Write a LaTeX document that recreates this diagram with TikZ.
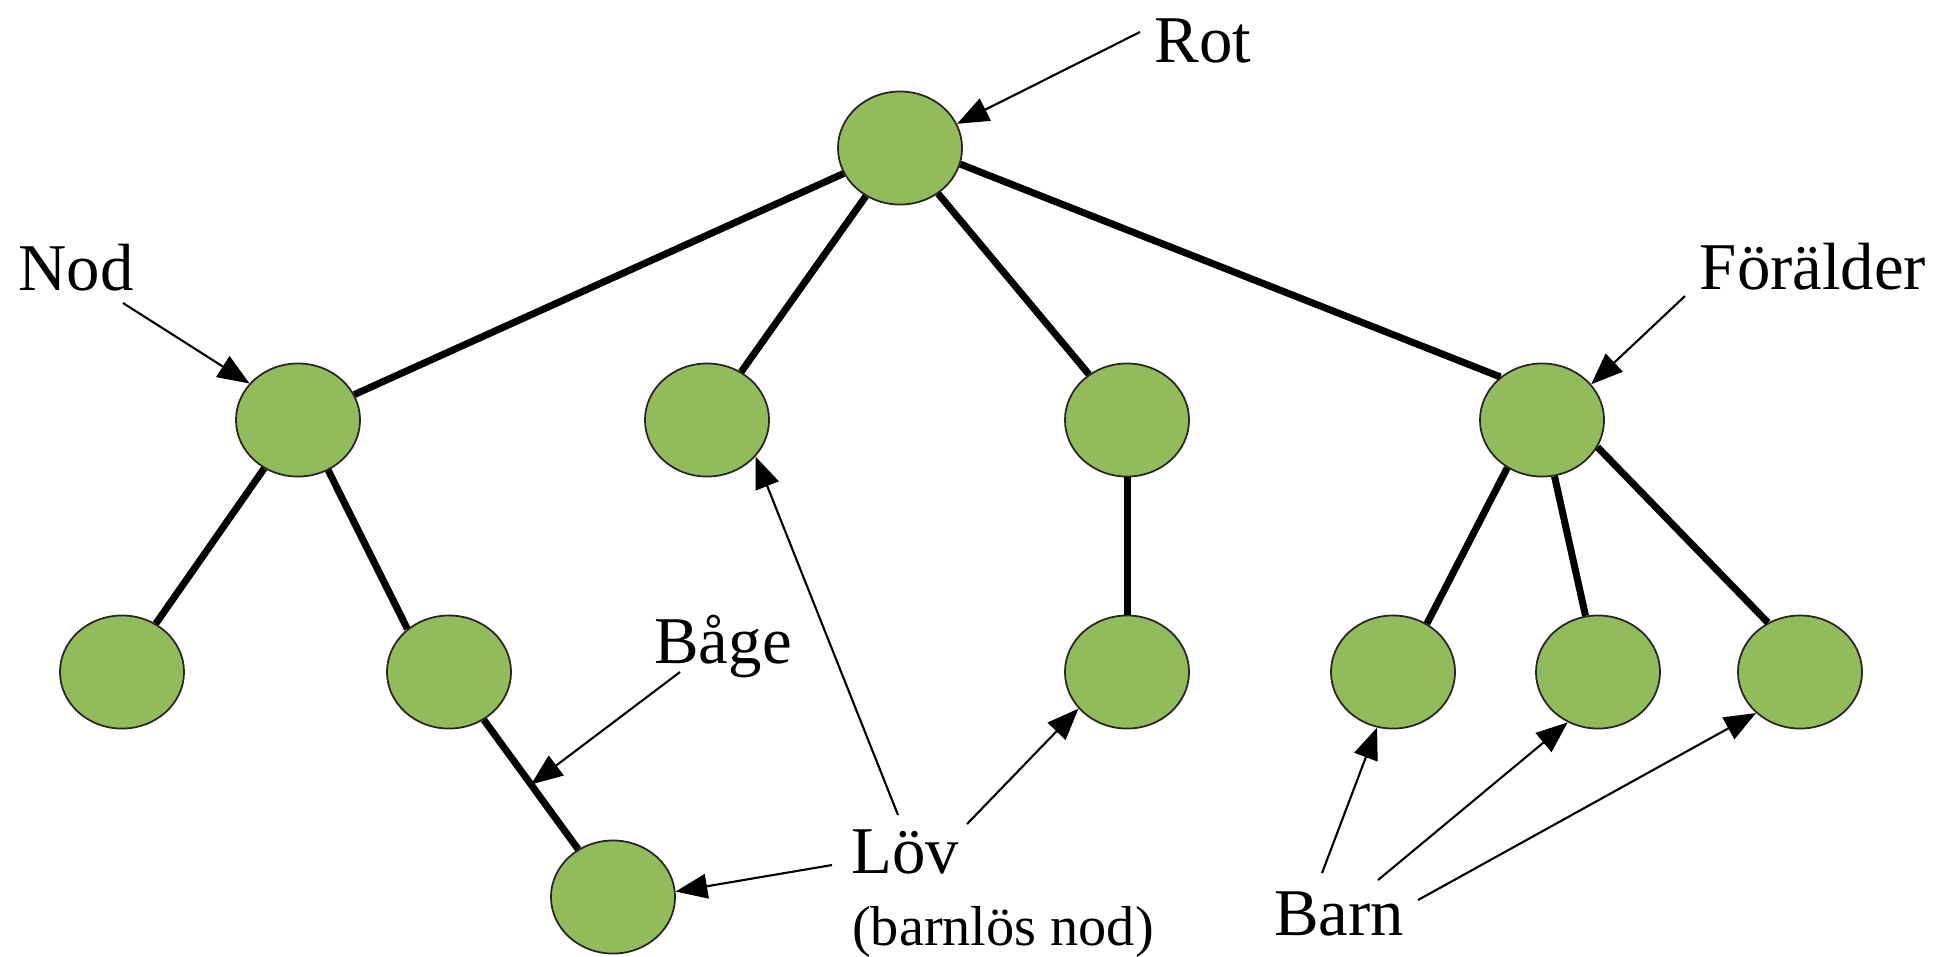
\documentclass[tikz,border=0pt]{standalone}
\usepackage{fontspec}
\setmainfont{Liberation Serif}
\usetikzlibrary{arrows.meta,shapes.geometric}
\definecolor{lovgron}{RGB}{146,187,92}

\begin{document}
\begin{tikzpicture}[x=0.01cm, y=-0.01cm,
		nod/.style={ellipse, draw=black!85, line width=0.5pt, fill=lovgron, minimum width=1.24cm, minimum height=1.13cm, inner sep=0pt},
		kant/.style={line width=2pt},
		pil/.style={line width=0.6pt, -{Triangle[length=9pt, width=7pt]}},
		etikett/.style={anchor=base, inner sep=2pt, font=\fontsize{19}{22}\selectfont},
		liten/.style={anchor=base, inner sep=2pt, font=\fontsize{16}{19}\selectfont}]
			%%%%% START %%%%%
			
			\useasboundingbox (0, 0) rectangle (1937, 956);
			
			\node[nod] (rot) at (900, 148) {};
			
			\node[nod] (a) at (298, 420) {};
			\node[nod] (b) at (707, 420) {};
			\node[nod] (c) at (1127, 420) {};
			\node[nod] (d) at (1542, 420) {};
			
			\node[nod] (a1) at (122, 672) {};
			\node[nod] (a2) at (449, 672) {};
			\node[nod] (c1) at (1127, 672) {};
			\node[nod] (d1) at (1393, 672) {};
			\node[nod] (d2) at (1598, 672) {};
			\node[nod] (d3) at (1800, 672) {};
			
			\node[nod] (a2a) at (613, 897) {};
			
			\draw[kant] (rot) -- (a);
			\draw[kant] (rot) -- (b);
			\draw[kant] (rot) -- (c);
			\draw[kant] (rot.-15) -- (d.134);
			
			\draw[kant] (a) -- (a1);
			\draw[kant] (a.-59) -- (a2.134);
			\draw[kant] (a2) -- coordinate (bagepkt) (a2a);
			\draw[kant] (c) -- (c1);
			\draw[kant] (d.-126) -- (d1.55);
			\draw[kant] (d) -- (d2);
			\draw[kant] (d.-26) -- (d3.123);
			
			\node[etikett] (rotlbl) at (1203, 62) {Rot};
			\node[etikett] (nodlbl) at (76, 290) {Nod};
			\node[etikett] (forlbl) at (1813, 289) {Förälder};
			\node[etikett] (bagelbl) at (723, 663) {Båge};
			\node[etikett] (lovlbl) at (905, 873) {Löv};
			\node[liten] (barnloslbl) at (1003, 945) {(barnlös nod)};
			\node[etikett] (barnlbl) at (1339, 935) {Barn};
			
			\coordinate (rotfot) at (1140, 32);
			\coordinate (nodfot) at (123, 303);
			\coordinate (forfot) at (1685, 296);
			\coordinate (bagefot) at (680, 672);
			\coordinate (lovfot1) at (832, 865);
			\coordinate (lovfot2) at (898, 815);
			\coordinate (lovfot3) at (967, 824);
			\coordinate (barnfot1) at (1322, 873);
			\coordinate (barnfot2) at (1378, 880);
			\coordinate (barnfot3) at (1418, 900);
			
			\draw[pil] (rotfot) -- (rot.23);
			\draw[pil] (nodfot) -- (a.143);
			\draw[pil] (forfot) -- (d.36);
			\draw[pil] (bagefot) -- (bagepkt);
			
			\draw[pil] (lovfot1) -- (a2a.5);
			\draw[pil] (lovfot2) -- (b.-37);
			\draw[pil] (lovfot3) -- (c1.217);
			
			\draw[pil] (barnfot1) -- (d1.254);
			\draw[pil] (barnfot2) -- (d2.239);
			\draw[pil] (barnfot3) -- (d3.223);
			
			%%%%% END %%%%%
		\end{tikzpicture}
\end{document}
